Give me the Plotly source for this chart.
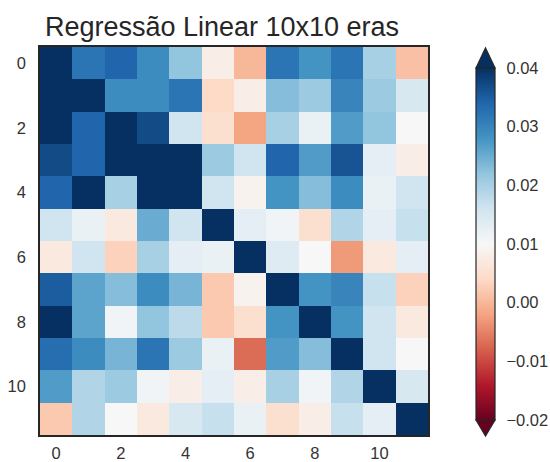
import plotly.graph_objects as go

# Correlation-style weight matrix (rows = y index, cols = x index)
labels = list(range(12))
z = [
    [0.050, 0.032, 0.034, 0.029, 0.022, 0.008, 0.000, 0.032, 0.028, 0.032, 0.020, 0.001],
    [0.050, 0.050, 0.029, 0.029, 0.032, 0.004, 0.008, 0.023, 0.021, 0.030, 0.021, 0.015],
    [0.050, 0.034, 0.045, 0.037, 0.016, 0.005, -0.002, 0.020, 0.012, 0.027, 0.022, 0.010],
    [0.037, 0.034, 0.042, 0.050, 0.050, 0.021, 0.016, 0.034, 0.027, 0.036, 0.013, 0.008],
    [0.034, 0.045, 0.020, 0.050, 0.050, 0.016, 0.009, 0.028, 0.023, 0.029, 0.012, 0.016],
    [0.016, 0.012, 0.007, 0.025, 0.016, 0.050, 0.013, 0.011, 0.005, 0.019, 0.013, 0.017],
    [0.007, 0.016, 0.003, 0.020, 0.013, 0.012, 0.050, 0.014, 0.010, -0.003, 0.007, 0.013],
    [0.035, 0.026, 0.023, 0.029, 0.024, 0.002, 0.009, 0.050, 0.028, 0.030, 0.017, 0.003],
    [0.045, 0.026, 0.011, 0.022, 0.018, 0.002, 0.005, 0.028, 0.050, 0.028, 0.016, 0.007],
    [0.033, 0.029, 0.024, 0.032, 0.021, 0.012, -0.007, 0.027, 0.023, 0.050, 0.016, 0.010],
    [0.027, 0.019, 0.021, 0.011, 0.008, 0.013, 0.008, 0.020, 0.011, 0.019, 0.050, 0.015],
    [0.002, 0.019, 0.010, 0.007, 0.015, 0.017, 0.012, 0.005, 0.008, 0.017, 0.013, 0.050],
]
zmin, zmax = -0.02, 0.04
axis_ticks = [0, 2, 4, 6, 8, 10]
cbar_ticks = [-0.02, -0.01, 0.00, 0.01, 0.02, 0.03, 0.04]
cbar_text = ["\u22120.02", "\u22120.01", "0.00", "0.01", "0.02", "0.03", "0.04"]

# Diverging red-blue palette (red = low, blue = high)
rdbu = ["#67001f", "#b2182b", "#d6604d", "#f4a582", "#fddbc7", "#f7f7f7",
        "#d1e5f0", "#92c5de", "#4393c3", "#2166ac", "#053061"]
colorscale = [[i / (len(rdbu) - 1), c] for i, c in enumerate(rdbu)]

W, H = 550, 462
ML, MR, MT, MB = 40, 122, 47, 27
PW, PH = W - ML - MR, H - MT - MB

def px_x(x):
    return (x - ML) / PW

def px_y(y):
    return (H - MB - y) / PH

text_col = "#333333"
edge_col = "#262626"
font = "Liberation Sans, Arial, sans-serif"

cb_left, cb_w = 476, 19
cb_top, cb_bot = 68, 420

fig = go.Figure(go.Heatmap(
    z=z, x=labels, y=labels, zmin=zmin, zmax=zmax, colorscale=colorscale,
    colorbar=dict(
        tickvals=cbar_ticks, ticktext=cbar_text,
        ticks="outside", ticklen=8, tickcolor="rgba(0,0,0,0)",
        thickness=cb_w, thicknessmode="pixels",
        len=cb_bot - cb_top, lenmode="pixels",
        x=px_x(cb_left), xanchor="left", xpad=0,
        y=px_y((cb_top + cb_bot) / 2), yanchor="middle", ypad=0,
        outlinewidth=1.2, outlinecolor=edge_col,
        tickfont=dict(size=16.5, color=text_col, family=font),
    ),
))

# Extension arrows at both ends of the colour bar
cx = cb_left + cb_w / 2
arrow_len = 20
top_path = (f"M {px_x(cb_left)} {px_y(cb_top)} L {px_x(cx)} {px_y(cb_top - arrow_len)} "
            f"L {px_x(cb_left + cb_w)} {px_y(cb_top)} Z")
bot_path = (f"M {px_x(cb_left)} {px_y(cb_bot)} L {px_x(cx)} {px_y(cb_bot + arrow_len - 4)} "
            f"L {px_x(cb_left + cb_w)} {px_y(cb_bot)} Z")
fig.add_shape(type="path", path=top_path, xref="paper", yref="paper",
              fillcolor=rdbu[-1], line=dict(color=edge_col, width=1.2))
fig.add_shape(type="path", path=bot_path, xref="paper", yref="paper",
              fillcolor=rdbu[0], line=dict(color=edge_col, width=1.2))

axis_common = dict(
    tickvals=axis_ticks, ticks="outside", tickcolor="rgba(0,0,0,0)",
    showgrid=False, zeroline=False, showline=True, mirror=True,
    linecolor=edge_col, linewidth=1.6, automargin=False,
    tickfont=dict(size=16.5, color=text_col, family=font),
)

fig.update_layout(
    width=W, height=H,
    margin=dict(l=ML, r=MR, t=MT, b=MB, autoexpand=False),
    paper_bgcolor="white", plot_bgcolor="white",
    title=dict(text="Regressão Linear 10x10 eras", x=222 / W,
               xanchor="center", y=1 - 27 / H, yanchor="middle",
               font=dict(size=27, color=edge_col, family=font)),
    xaxis=dict(range=[-0.5, 11.5], ticklen=2, **axis_common),
    yaxis=dict(range=[11.5, -0.5], ticklen=9, **axis_common),
)

fig.write_html("out.html")
